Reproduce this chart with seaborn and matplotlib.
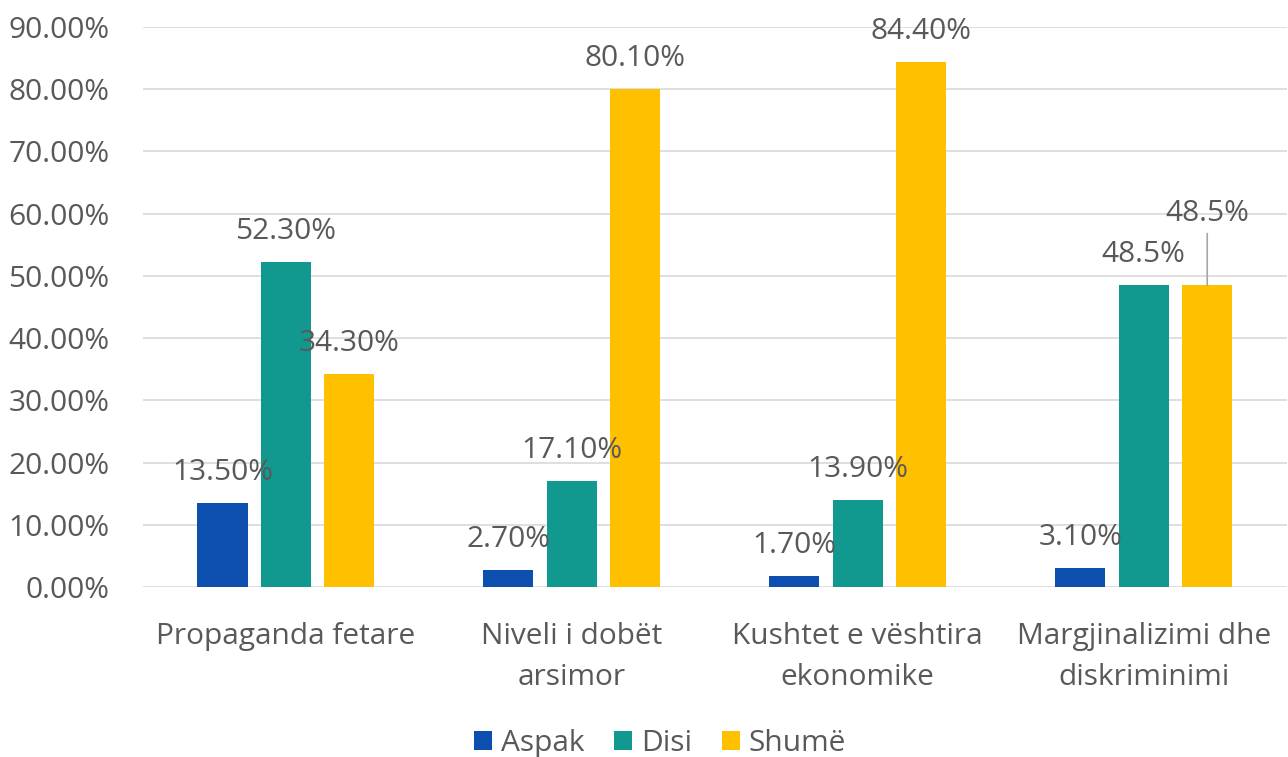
import pandas as pd
import matplotlib.pyplot as plt
import seaborn as sns

# Data
categories = ['Propaganda fetare', 'Niveli i dobët\narsimor',
              'Kushtet e vështira\nekonomike', 'Margjinalizimi dhe\ndiskriminimi']
series = ['Aspak', 'Disi', 'Shumë']
aspak = [13.5, 2.7, 1.7, 3.1]
disi = [52.3, 17.1, 13.9, 48.5]
shume = [34.3, 80.1, 84.4, 48.5]
labels_aspak = ['13.50%', '2.70%', '1.70%', '3.10%']
labels_disi = ['52.30%', '17.10%', '13.90%', '48.5%']
labels_shume = ['34.30%', '80.10%', '84.40%', '48.5%']
yticks = [0, 10, 20, 30, 40, 50, 60, 70, 80, 90]

colors = ['#0D4FAE', '#12998F', '#FFC000']
text_color = '#595959'
fs = 21.5

df = pd.DataFrame({
    'category': categories * 3,
    'series': [s for s in series for _ in categories],
    'value': aspak + disi + shume,
    'label': labels_aspak + labels_disi + labels_shume,
})

sns.set_style('white')
plt.rcParams['font.family'] = ['Open Sans', 'DejaVu Sans']

fig = plt.figure(figsize=(12.88, 7.57), dpi=100)
ax = fig.add_axes([0.111, 0.2246, 0.888, 0.7397])

sns.barplot(data=df, x='category', y='value', hue='series', hue_order=series,
            palette=colors, saturation=1, width=0.666, gap=0.21, linewidth=0,
            ax=ax, zorder=2, legend=True)

ax.set_xlim(-0.5, 3.5)
ax.set_ylim(0, 90)
ax.set_yticks(yticks)
ax.set_yticklabels([f'{v:.2f}%' for v in yticks])
ax.grid(axis='y', color='#D9D9D9', lw=1.2, zorder=0)
ax.set_axisbelow(True)
for s in ax.spines.values():
    s.set_visible(False)
ax.tick_params(axis='both', length=0, labelsize=fs, labelcolor=text_color)
ax.tick_params(axis='y', pad=24)
ax.tick_params(axis='x', pad=25)
for t in ax.get_xticklabels():
    t.set_linespacing(1.55)
ax.set_xlabel('')
ax.set_ylabel('')

# data labels
for container, s in zip(ax.containers, series):
    sub = df[df['series'] == s]
    for bar, lab in zip(container, sub['label']):
        x = bar.get_x() + bar.get_width() / 2
        h = bar.get_height()
        if s == 'Shumë' and lab == '48.5%':
            ax.annotate(lab, (x, h), xytext=(0, 52), textcoords='offset points',
                        ha='center', va='center', fontsize=fs, color=text_color,
                        arrowprops=dict(arrowstyle='-', color='#A6A6A6', lw=1.2,
                                        shrinkA=2, shrinkB=0))
        else:
            ax.annotate(lab, (x, h), xytext=(0, 22), textcoords='offset points',
                        ha='center', va='center', fontsize=fs, color=text_color)

ax.legend(loc='center', bbox_to_anchor=(0.452, -0.28), ncol=3, frameon=False,
          fontsize=fs, labelcolor=text_color, handlelength=0.6, handleheight=0.6,
          handletextpad=0.3, columnspacing=1.0)

fig.savefig('out.png', dpi=100)
